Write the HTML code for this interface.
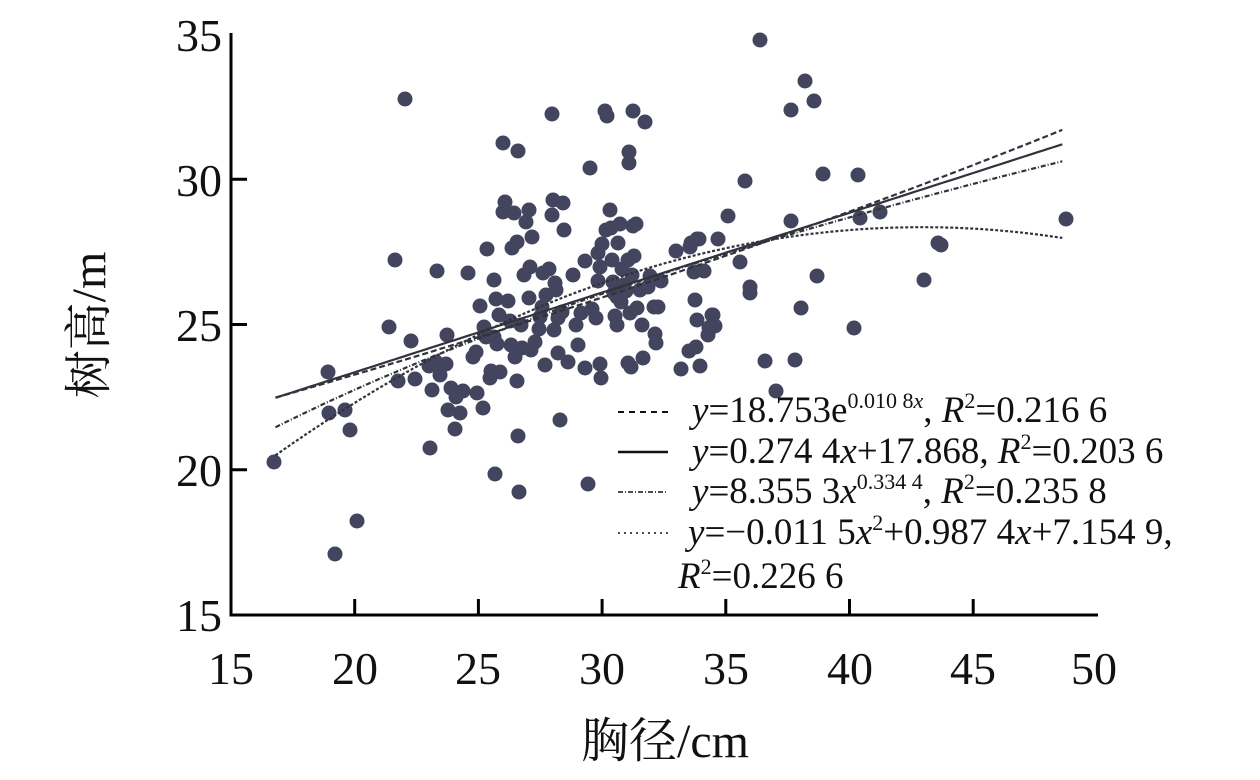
<!DOCTYPE html>
<html><head><meta charset="utf-8"><style>
body{margin:0;background:#fff;width:1260px;height:775px;overflow:hidden}
svg text{font-family:"Liberation Serif","Noto Serif CJK SC",serif;fill:#111}
</style></head><body>
<svg id="s" width="1260" height="775" xmlns="http://www.w3.org/2000/svg">
<g id="dots" fill="#43455e"></g>
<g id="curves" fill="none" stroke="#33333d" stroke-width="2.2"></g>
<g stroke="#000" stroke-width="3" fill="none">
<path d="M231,33 V615 H1098"/>
</g>
<g id="ticks" stroke="#000" stroke-width="3"></g>
<g font-size="46" text-anchor="end">
<text x="222" y="631">15</text><text x="222" y="486">20</text><text x="222" y="341">25</text><text x="222" y="196">30</text><text x="222" y="51">35</text>
</g>
<g font-size="46" text-anchor="middle">
<text x="231" y="684">15</text><text x="355" y="684">20</text><text x="478" y="684">25</text><text x="602" y="684">30</text><text x="726" y="684">35</text><text x="850" y="684">40</text><text x="973" y="684">45</text><text x="1094" y="684">50</text>
</g>
<text x="665" y="757" font-size="48" text-anchor="middle">胸径/cm</text>
<text transform="translate(105,325) rotate(-90)" font-size="48" text-anchor="middle">树高/m</text>
<g font-size="37">
<text x="692" y="422"><tspan font-style="italic">y</tspan>=18.753e<tspan font-size="22" dy="-14">0.010 8<tspan font-style="italic">x</tspan></tspan><tspan dy="14">, </tspan><tspan font-style="italic">R</tspan><tspan font-size="22" dy="-14">2</tspan><tspan dy="14">=0.216 6</tspan></text>
<text x="692" y="463"><tspan font-style="italic">y</tspan>=0.274 4<tspan font-style="italic">x</tspan>+17.868, <tspan font-style="italic">R</tspan><tspan font-size="22" dy="-14">2</tspan><tspan dy="14">=0.203 6</tspan></text>
<text x="692" y="503"><tspan font-style="italic">y</tspan>=8.355 3<tspan font-style="italic">x</tspan><tspan font-size="22" dy="-14">0.334 4</tspan><tspan dy="14">, </tspan><tspan font-style="italic">R</tspan><tspan font-size="22" dy="-14">2</tspan><tspan dy="14">=0.235 8</tspan></text>
<text x="688" y="544"><tspan font-style="italic">y</tspan>=−0.011 5<tspan font-style="italic">x</tspan><tspan font-size="22" dy="-14">2</tspan><tspan dy="14">+0.987 4</tspan><tspan font-style="italic">x</tspan>+7.154 9,</text>
<text x="678" y="588"><tspan font-style="italic">R</tspan><tspan font-size="22" dy="-14">2</tspan><tspan dy="14">=0.226 6</tspan></text>
</g>
<g stroke="#111" fill="none">
<line x1="618" y1="412" x2="668" y2="412" stroke-width="2" stroke-dasharray="6,5"/>
<line x1="618" y1="452" x2="668" y2="452" stroke-width="2.5"/>
<line x1="618" y1="492" x2="668" y2="492" stroke-width="1.5" stroke-dasharray="5,2,1,2"/>
<line x1="618" y1="533" x2="668" y2="533" stroke-width="1.5" stroke-dasharray="2,4"/>
</g>
</svg>
<script>
var X=v=>231+(v-15)*24.74, Y=v=>615-(v-15)*29.05;
var t='';
for(var i=1;i<7;i++){var x=X(15+5*i);t+=`<line x1="${x}" y1="615" x2="${x}" y2="599"/>`;}
for(var i=1;i<4;i++){var y=Y(15+5*i);t+=`<line x1="231" y1="${y}" x2="247" y2="${y}"/>`;}
document.getElementById('ticks').innerHTML=t;
var P=[[274,462],[335,554],[328,372],[329,413],[345,410],[350,430],[357,521],[389,327],[395,260],[398,381],[405,99],[411,341],[430,448],[437,271],[415,379],[432,390],[440,375],[446,364],[447,335],[448,410],[451,388],[455,429],[463,391],[468,273],[473,357],[477,393],[480,306],[483,408],[484,327],[487,249],[490,378],[491,371],[494,280],[495,474],[496,299],[494,337],[497,344],[499,315],[500,372],[503,143],[505,202],[503,212],[508,301],[510,321],[511,345],[512,248],[514,213],[515,357],[517,381],[517,242],[518,151],[518,436],[519,492],[521,325],[522,348],[524,275],[526,222],[529,210],[529,298],[530,267],[531,350],[532,237],[535,342],[539,329],[540,317],[542,307],[543,273],[545,365],[546,295],[549,269],[552,114],[553,200],[552,215],[554,330],[555,283],[556,290],[558,318],[558,353],[560,420],[562,312],[563,203],[564,230],[568,362],[573,275],[576,325],[578,345],[581,313],[585,261],[585,368],[588,484],[590,168],[592,309],[596,318],[598,253],[598,281],[600,267],[600,364],[601,378],[602,244],[605,111],[606,230],[607,116],[610,210],[611,228],[612,260],[613,282],[614,293],[615,316],[617,297],[617,325],[618,243],[620,224],[621,302],[622,269],[624,285],[625,290],[626,291],[628,260],[628,363],[629,163],[629,152],[630,313],[631,367],[632,275],[633,111],[633,226],[634,256],[636,224],[637,308],[640,290],[642,325],[643,358],[645,122],[648,287],[650,276],[654,307],[655,334],[656,343],[658,307],[661,281],[676,251],[681,369],[689,351],[690,247],[691,243],[694,272],[695,300],[696,347],[697,320],[697,239],[699,239],[700,366],[704,271],[708,335],[709,328],[710,327],[712,315],[713,315],[715,326],[718,239],[728,216],[740,262],[745,181],[750,287],[750,293],[760,40],[765,361],[776,391],[791,221],[791,110],[795,360],[801,308],[805,81],[814,101],[817,276],[823,174],[854,328],[858,175],[860,218],[880,212],[924,280],[938,243],[941,245],[1066,219],[476,352],[436,362],[456,397],[429,366],[486,337],[460,413]];
document.getElementById('dots').innerHTML=P.map(p=>`<circle cx="${p[0]}" cy="${p[1]}" r="7.5"/>`).join('');
var F=[x=>18.753*Math.exp(0.0108*x),x=>0.2744*x+17.868,x=>8.3553*Math.pow(x,0.3344),x=>-0.0115*x*x+0.9874*x+7.1549];
var D=['6,3','','5,2,1,2','3,2'];
var c='';
F.forEach((f,k)=>{var d='';for(var x=16.8;x<=48.71;x+=0.2){d+=(d?'L':'M')+X(x).toFixed(1)+','+Y(f(x)).toFixed(1);}c+=`<path d="${d}" ${D[k]?'stroke-dasharray="'+D[k]+'"':''}/>`;});
document.getElementById('curves').innerHTML=c;
</script>
</body></html>
